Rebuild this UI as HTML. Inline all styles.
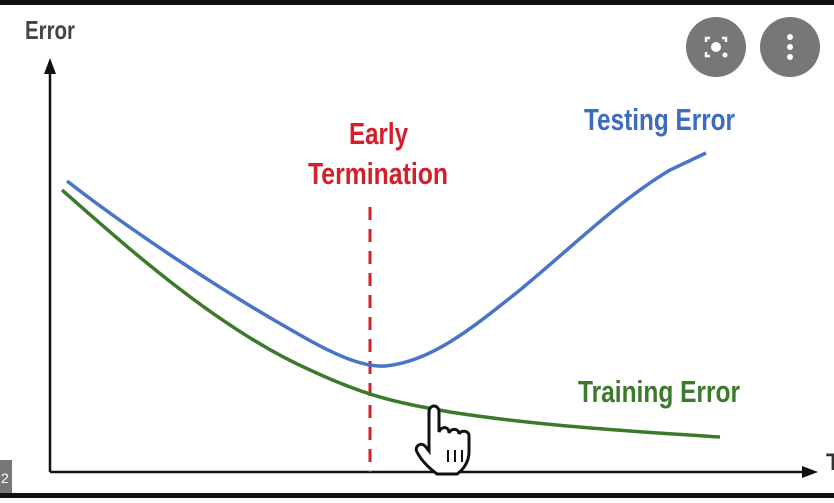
<!DOCTYPE html>
<html><head><style>
body{margin:0;width:834px;height:498px;overflow:hidden;background:#fff;font-family:"Liberation Sans",sans-serif}
</style></head><body>
<svg width="834" height="498" viewBox="0 0 834 498" xmlns="http://www.w3.org/2000/svg">
<rect x="0" y="0" width="834" height="5" fill="#111"/>
<rect x="0" y="493" width="834" height="5" fill="#111"/>
<rect x="0" y="460" width="12" height="33" fill="#777"/>
<text x="1" y="483" font-size="14" fill="#fff">2</text>
<text x="25" y="39" font-size="26" fill="#444" font-weight="bold" textLength="50" lengthAdjust="spacingAndGlyphs">Error</text>
<line x1="50" y1="472" x2="50" y2="70" stroke="#111" stroke-width="2.5"/>
<polygon points="50,58 44,74 56,74" fill="#111"/>
<line x1="50" y1="472" x2="806" y2="472" stroke="#111" stroke-width="2.5"/>
<polygon points="818,472 802,466 802,478" fill="#111"/>
<text x="826" y="470" font-size="24" fill="#333" font-weight="bold">T</text>
<line x1="370" y1="207" x2="370" y2="472" stroke="#d0202a" stroke-width="3" stroke-dasharray="13,9"/>
<text x="349" y="144" font-size="31" fill="#d0202a" font-weight="bold" textLength="59" lengthAdjust="spacingAndGlyphs">Early</text>
<text x="308" y="184" font-size="31" fill="#d0202a" font-weight="bold" textLength="140" lengthAdjust="spacingAndGlyphs">Termination</text>
<text x="584" y="130" font-size="31" fill="#3d6bc0" font-weight="bold" textLength="151" lengthAdjust="spacingAndGlyphs">Testing Error</text>
<text x="578" y="402" font-size="31" fill="#3a7a2a" font-weight="bold" textLength="162" lengthAdjust="spacingAndGlyphs">Training Error</text>
<path d="M67,181 C130,230 220,290 300,335 C340,358 365,367 385,366 C430,362 470,330 520,290 C580,240 620,200 670,170 L706,153" fill="none" stroke="#4a74c8" stroke-width="3.5"/>
<path d="M62,190 C130,250 220,330 310,370 C370,398 400,403 450,412 C540,426 640,432 720,437" fill="none" stroke="#3a7a2a" stroke-width="3.5"/>
<circle cx="716" cy="47" r="30" fill="#777"/>
<circle cx="790" cy="47" r="30" fill="#777"/>
<circle cx="716" cy="47" r="5" fill="#fff"/>
<path d="M706,42 v-4 h4 M722,38 h4 v4 M706,52 v4 h4" stroke="#fff" stroke-width="2.5" fill="none"/>
<circle cx="725" cy="55" r="2.5" fill="#fff"/>
<circle cx="790" cy="37" r="3" fill="#fff"/><circle cx="790" cy="47" r="3" fill="#fff"/><circle cx="790" cy="57" r="3" fill="#fff"/>
<path d="M429,412 c0,-8 10,-8 10,0 v20 c2,-6 10,-6 10,1 c2,-5 10,-5 10,1 c2,-4 10,-4 10,2 v16 c0,10 -6,18 -12,22 h-20 c-8,-6 -16,-14 -20,-22 c-3,-6 4,-10 8,-6 l4,5 z" fill="#fff" stroke="#111" stroke-width="3"/>
<path d="M448,450 v12 M455,450 v12 M462,450 v12" stroke="#111" stroke-width="2"/>
</svg>
</body></html>
